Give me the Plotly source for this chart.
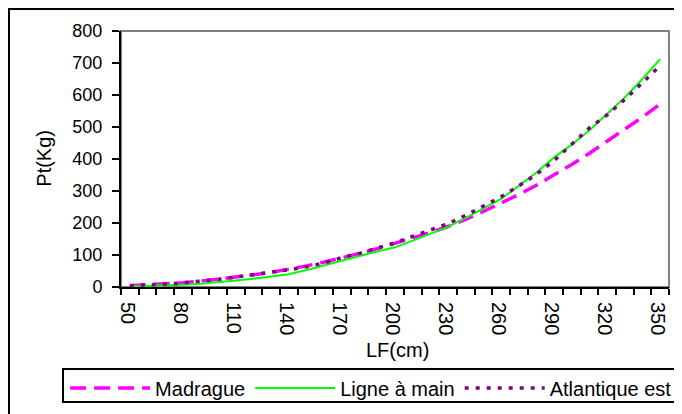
import plotly.graph_objects as go

lengths = [50, 60, 70, 80, 90, 100, 110, 120, 130, 140, 150, 160, 170, 180, 190, 200,
           210, 220, 230, 240, 250, 260, 270, 280, 290, 300, 310, 320, 330, 340, 350]

madrague = [4, 6.5, 9.5, 13.5, 18, 24, 30, 38, 46, 55, 66, 78, 91, 105, 120, 136,
            152, 170, 189, 211, 236, 262, 289, 318, 350, 383, 418, 455, 492, 531, 572]

ligne_main = [1.5, 3, 4.5, 7, 10, 14, 20, 26, 33, 40, 53, 68, 84, 97, 111, 124,
              145, 166, 188, 216, 245, 275, 316, 358, 405, 445, 490, 540, 592, 650, 712]

atlantique = [4, 6, 9, 13, 18, 24, 31, 38, 46, 54, 63, 75, 92, 105, 122, 138,
              158, 178, 198, 224, 252, 282, 316, 352, 395, 445, 497, 538, 586, 638, 692]

x_tick_labels = [50, 80, 110, 140, 170, 200, 230, 260, 290, 320, 350]
y_ticks = [0, 100, 200, 300, 400, 500, 600, 700, 800]

FONT = "Liberation Sans, Arial, sans-serif"

fig = go.Figure()
fig.add_trace(go.Scatter(x=lengths, y=madrague, mode="lines", name="Madrague",
                         line=dict(color="#FF00FF", width=3.5, dash="16px,8px")))
fig.add_trace(go.Scatter(x=lengths, y=ligne_main, mode="lines", name="Ligne à main",
                         line=dict(color="#00FF00", width=2)))
fig.add_trace(go.Scatter(x=lengths, y=atlantique, mode="lines", name="Atlantique est",
                         line=dict(color="#800080", width=3.5, dash="4px,7px")))

# small nudge so rotated labels sit like the reference's
label_shift = 1.5

# the page body has an 8px margin, so the figure is 8px smaller than the window
fig.update_layout(
    width=674, height=406,
    margin=dict(l=113, r=13, t=23, b=127, autoexpand=False),
    paper_bgcolor="white", plot_bgcolor="white",
    font=dict(family=FONT, color="black", size=18),
    showlegend=True,
    legend=dict(orientation="h", x=-0.102, y=-0.318, xanchor="left", yanchor="top",
                borderwidth=0, font=dict(size=20, family=FONT),
                itemwidth=80, tracegroupgap=0, bgcolor="rgba(0,0,0,0)"),
    xaxis=dict(range=[45, 355], tickmode="array",
               tickvals=[v - label_shift for v in x_tick_labels],
               ticktext=[str(v) for v in x_tick_labels], tickangle=90,
               ticks="", showgrid=False, zeroline=False, automargin=False,
               showline=True, linecolor="black", linewidth=2,
               tickfont=dict(size=20, family=FONT), ticklabelstandoff=9,
               minor=dict(ticks="outside", tick0=45, dtick=10, ticklen=6,
                          tickwidth=2, tickcolor="black", showgrid=False)),
    yaxis=dict(range=[0, 800], tickmode="array", tickvals=y_ticks,
               ticks="outside", ticklen=7, tickwidth=2, tickcolor="black",
               showgrid=False, zeroline=False, automargin=False,
               showline=True, linecolor="black", linewidth=2,
               tickfont=dict(size=18, family=FONT), ticklabelstandoff=6),
    shapes=[
        dict(type="rect", xref="paper", yref="paper", x0=0, x1=1, y0=0, y1=1,
             line=dict(color="#808080", width=2), layer="below"),
        dict(type="rect", xref="paper", yref="paper", x0=-0.2044, x1=1.5, y0=-1.0, y1=1.086,
             line=dict(color="black", width=2), layer="below"),
        dict(type="rect", xref="paper", yref="paper", x0=-0.1058, x1=1.5, y0=-0.449, y1=-0.320,
             line=dict(color="black", width=2), layer="below"),
    ],
    annotations=[
        dict(text="LF(cm)", xref="paper", yref="paper", x=0.505, y=-0.246,
             xanchor="center", yanchor="middle", showarrow=False,
             font=dict(size=20, family=FONT)),
        dict(text="Pt(Kg)", xref="paper", yref="paper", x=-0.141, y=0.504,
             xanchor="center", yanchor="middle", showarrow=False, textangle=-90,
             font=dict(size=20, family=FONT)),
    ],
)

fig.write_html("out.html")
